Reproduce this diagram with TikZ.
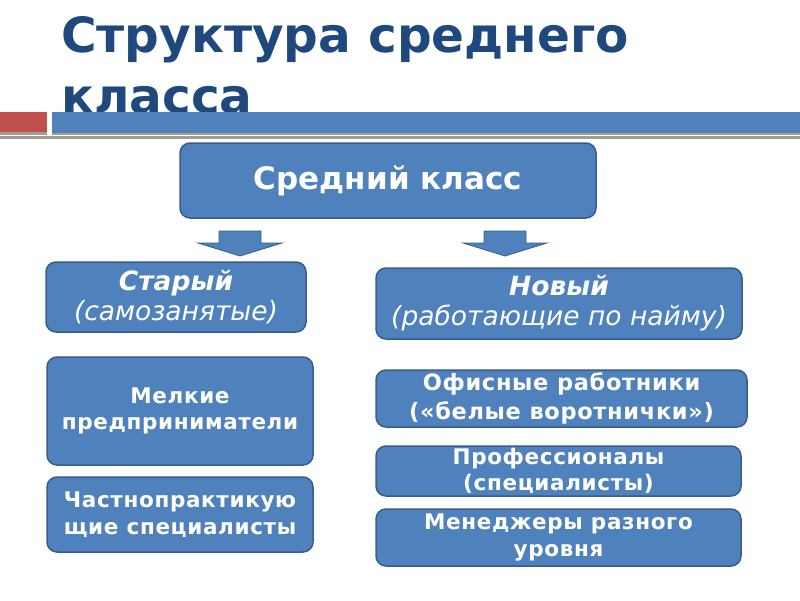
\documentclass[tikz,border=0pt]{standalone}
\usepackage{fontspec}
\setmainfont{DejaVu Sans}
\definecolor{boxfill}{HTML}{4F81BD}
\definecolor{boxline}{HTML}{385D8A}
\definecolor{titleblue}{HTML}{1F497D}
\definecolor{accred}{HTML}{C0504D}
\definecolor{shadowgray}{HTML}{A39C95}
\begin{document}
\begin{tikzpicture}[x=1pt,y=-1pt,
  box/.style={draw=boxline, line width=1.5pt, fill=boxfill, rounded corners=10pt,
    text=white, align=center, inner sep=0pt, anchor=center},
  smalltxt/.style={font=\bfseries\fontsize{21.5}{26.5}\selectfont\addfontfeatures{LetterSpace=3}},
  officetxt/.style={font=\bfseries\fontsize{22.5}{28.5}\selectfont\addfontfeatures{LetterSpace=3}},
  titletxt/.style={anchor=base west, text=titleblue, inner sep=0pt,
    font=\bfseries\fontsize{48.5}{59}\selectfont},
  blockarrow/.style={draw=boxline, line width=0.8pt, fill=boxfill}
]
\useasboundingbox (0,0) rectangle (800,600);
% title
\node[titletxt] (title1) at (61,52) {Структура среднего};
\node[titletxt] (title2) at (61,113) {класса};
% decorative bars
\fill[shadowgray] (0,132) rectangle (47,134.5);
\fill[accred] (0,112) rectangle (47,132);
\fill[shadowgray] (52,133) rectangle (800,134.5);
\fill[boxfill] (52,112) rectangle (800,133);
\fill[shadowgray] (0,136) rectangle (800,138.5);
% main box
\node[box, minimum width=416pt, minimum height=75pt,
  font=\bfseries\fontsize{31}{34}\selectfont] (main) at (388,180.5) {Средний класс};
% block arrows
\draw[blockarrow] (219,231) -- (261,231) -- (261,243) -- (282,243) -- (240,256)
  -- (198,243) -- (219,243) -- cycle;
\draw[blockarrow] (484,231) -- (526,231) -- (526,243) -- (547,243) -- (505,256)
  -- (463,243) -- (484,243) -- cycle;
% second row
\node[box, minimum width=260pt, minimum height=70pt,
  font=\fontsize{26.5}{30}\selectfont] (old) at (176,297)
  {\textbf{\textit{Старый}}\\\textit{(самозанятые)}};
\node[box, minimum width=366pt, minimum height=71pt,
  font=\fontsize{26.5}{30}\selectfont] (new) at (559,303.5)
  {\textbf{\textit{Новый}}\\\textit{(работающие по найму)}};
% left column
\node[box, smalltxt, minimum width=266pt, minimum height=108pt] (melk) at (180,411)
  {Мелкие\\предприниматели};
\node[box, smalltxt, minimum width=266pt, minimum height=75pt] (chast) at (180,514.5)
  {Частнопрактикую\\щие специалисты};
% right column
\node[box, officetxt, minimum width=371pt, minimum height=57pt] (office) at (561.5,398.5)
  {Офисные работники\\(«белые воротнички»)};
\node[box, smalltxt, minimum width=365pt, minimum height=50pt] (prof) at (558.5,471)
  {Профессионалы\\(специалисты)};
\node[box, smalltxt, minimum width=365pt, minimum height=57pt] (manag) at (558.5,537.5)
  {Менеджеры разного\\уровня};
\end{tikzpicture}
\end{document}
